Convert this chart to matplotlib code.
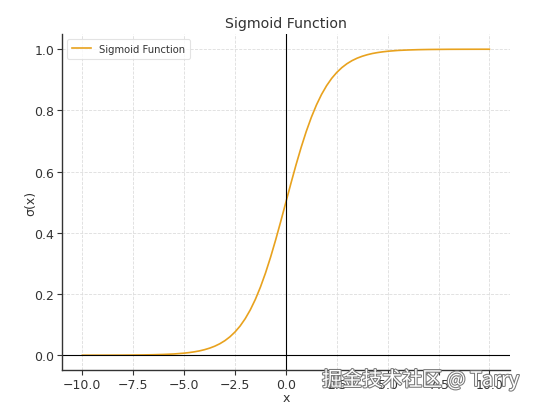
import matplotlib
matplotlib.use("Agg")
import matplotlib.pyplot as plt
import matplotlib.patheffects as pe

# x samples (finer in the steep middle); sigma values
x_vals = [-10.0, -9.5, -9.0, -8.5, -8.0, -7.5, -7.0, -6.5, -6.0, -5.5,
          -5.0, -4.75, -4.5, -4.25, -4.0, -3.75, -3.5, -3.25, -3.0, -2.75,
          -2.5, -2.25, -2.0, -1.75, -1.5, -1.25, -1.0, -0.75, -0.5, -0.25,
          0.0, 0.25, 0.5, 0.75, 1.0, 1.25, 1.5, 1.75, 2.0, 2.25,
          2.5, 2.75, 3.0, 3.25, 3.5, 3.75, 4.0, 4.25, 4.5, 4.75,
          5.0, 5.5, 6.0, 6.5, 7.0, 7.5, 8.0, 8.5, 9.0, 9.5, 10.0]
y_vals = [0.00005, 0.00007, 0.00012, 0.0002, 0.0003, 0.0006, 0.0009, 0.0015, 0.0025, 0.004,
          0.0067, 0.0086, 0.0110, 0.0140, 0.0180, 0.0230, 0.0293, 0.0373, 0.0474, 0.0601,
          0.0759, 0.0953, 0.1192, 0.1480, 0.1824, 0.2227, 0.2689, 0.3208, 0.3775, 0.4378,
          0.5000, 0.5622, 0.6225, 0.6792, 0.7311, 0.7773, 0.8176, 0.8520, 0.8808, 0.9047,
          0.9241, 0.9399, 0.9526, 0.9627, 0.9707, 0.9770, 0.9820, 0.9860, 0.9890, 0.9914,
          0.9933, 0.9960, 0.9975, 0.9985, 0.9991, 0.9994, 0.9997, 0.9998, 0.99988, 0.99993, 0.99995]
x_ticks = [-10.0, -7.5, -5.0, -2.5, 0.0, 2.5, 5.0, 7.5, 10.0]
y_ticks = [0.0, 0.2, 0.4, 0.6, 0.8, 1.0]

plt.rcParams['font.family'] = ['DejaVu Sans', 'Noto Sans CJK SC']

fig = plt.figure(figsize=(5.46, 4.06), dpi=100)
ax = fig.add_axes([0.1136, 0.085, 0.820, 0.829])

ax.plot(x_vals, y_vals, color='#e8a21e', lw=1.2, label='Sigmoid Function')
ax.axhline(0, color='black', lw=0.8)
ax.axvline(0, color='black', lw=0.8)

ax.set_xlim(-11, 11)
ax.set_ylim(-0.05, 1.05)
ax.set_xticks(x_ticks)
ax.set_yticks(y_ticks)
ax.set_xticklabels([f"{t:.1f}".replace('-', '\u2212') for t in x_ticks])
ax.set_yticklabels([f"{t:.1f}" for t in y_ticks])
ax.tick_params(labelsize=9, colors='#333333', length=3.5, width=0.8, pad=2)

for s in ['top', 'right']:
    ax.spines[s].set_visible(False)
for s in ['left', 'bottom']:
    ax.spines[s].set_color('#333333')
    ax.spines[s].set_linewidth(1.0)

ax.grid(True, linestyle='--', color='#dddddd', lw=0.6)
ax.set_axisbelow(True)

ax.set_title('Sigmoid Function', fontsize=10.2, color='#333333', pad=5)
ax.set_xlabel('x', fontsize=9, color='#333333', labelpad=0)
ax.set_ylabel('σ(x)', fontsize=9, color='#333333', labelpad=-2)

leg = ax.legend(loc='upper left', fontsize=7.2, frameon=True, handlelength=1.9,
                borderpad=0.5, labelcolor='#333333')
leg.get_frame().set_edgecolor('#dddddd')
leg.get_frame().set_linewidth(0.8)

fig.text(0.59, 0.062, '掘金技术社区 @ Tarry', fontsize=14.4, color='white',
         family=['Noto Sans CJK SC', 'DejaVu Sans'], va='center', ha='left',
         path_effects=[pe.withStroke(linewidth=1.5, foreground='#777777')])

fig.savefig('out.png', dpi=100)
